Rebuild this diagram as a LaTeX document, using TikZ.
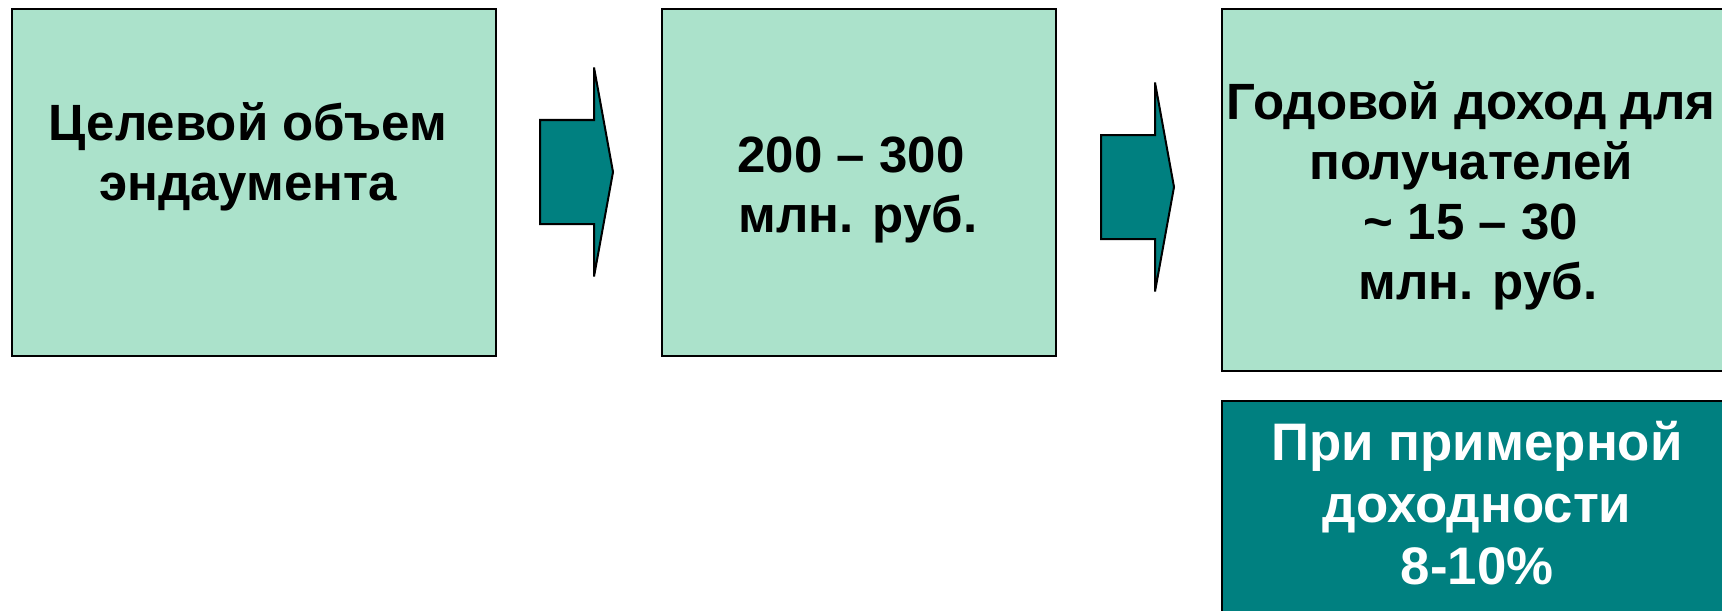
\documentclass[tikz,border=0pt]{standalone}
\usepackage{fontspec}
\setmainfont{Liberation Sans}
\definecolor{lightmint}{RGB}{171,226,203}
\definecolor{darkteal}{RGB}{0,128,128}
\tikzset{
  greenbox/.style={draw=black,line width=0.8pt,fill=lightmint,anchor=north west,inner sep=0pt},
  tealbox/.style={draw=black,line width=0.8pt,fill=darkteal,anchor=north west,inner sep=0pt},
  boxtext/.style={align=center,inner sep=0pt,font=\bfseries\fontsize{25.5}{30}\selectfont},
  blockarrow/.style={draw=black,line width=1pt,fill=darkteal,line join=miter}
}
\begin{document}
\begin{tikzpicture}[x=0.5pt,y=-0.5pt]
  \useasboundingbox (0,0) rectangle (1722,610);
  % boxes
  \node[greenbox,minimum width=242pt,minimum height=173.5pt] (target) at (11,8) {};
  \node[greenbox,minimum width=197pt,minimum height=173.5pt] (amount) at (661,8) {};
  \node[greenbox,minimum width=252pt,minimum height=181pt] (income) at (1221,8) {};
  \node[tealbox,minimum width=252pt,minimum height=110pt] (yield) at (1221,400) {};
  % texts
  \node[boxtext,anchor=north] (targettext) at (248,102) {Целевой объем\\эндаумента};
  \node[boxtext,anchor=north] (amounttext) at (851,136) {200 – 300\\\ млн. руб.};
  \node[boxtext,anchor=north] (incometext) at (1471,81) {Годовой доход для\\получателей\\\textasciitilde{} 15 – 30\\\ млн. руб.};
  \node[boxtext,anchor=north,text=white,font=\bfseries\fontsize{26.4}{31}\selectfont] (yieldtext) at (1477,421) {При примерной\\доходности\\8-10\%};
  % arrows
  \foreach \x/\y in {540/172,1101/187}
    \draw[blockarrow] (\x,\y-52) -- (\x+54,\y-52) -- (\x+54,\y-104.5) -- (\x+73,\y)
      -- (\x+54,\y+104.5) -- (\x+54,\y+52) -- (\x,\y+52) -- cycle;
\end{tikzpicture}
\end{document}
